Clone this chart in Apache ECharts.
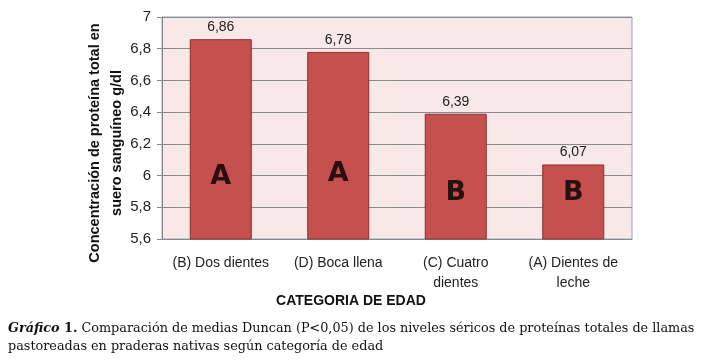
<!DOCTYPE html>
<html>
<head>
<meta charset="utf-8">
<script src="https://cdn.jsdelivr.net/npm/echarts@6/dist/echarts.min.js"></script>
<style>
  html, body { margin: 0; padding: 0; background: #fff; }
  #chart { width: 708px; height: 362px; }
</style>
</head>
<body>
<div id="chart"></div>
<script>
// datos del grafico
var categorias = ['(B) Dos dientes', '(D) Boca llena', '(C) Cuatro\ndientes', '(A) Dientes de\nleche']
var medias = [6.86, 6.78, 6.39, 6.07]
var letras = ['A', 'A', 'B', 'B']
var alturaLetras = [5.99, 6.01, 5.89, 5.89]
var ticksY = [5.6, 5.8, 6, 6.2, 6.4, 6.6, 6.8, 7]

var coma = function (v) { return String(v).replace('.', ',') }

var chart = echarts.init(document.getElementById('chart'), null, { renderer: 'canvas' })

var option = {
  backgroundColor: '#fff',
  animation: false,
  textStyle: { fontFamily: 'Liberation Sans' },
  grid: {
    left: 162, right: 76, top: 17, bottom: 123,
    show: true,
    backgroundColor: '#F9E8E8',
    borderColor: '#8FA3C6',
    borderWidth: 1
  },
  xAxis: {
    type: 'category',
    data: categorias,
    axisLine: { lineStyle: { color: '#8A8A8A' } },
    axisTick: { show: false },
    axisLabel: { color: '#222', fontSize: 14, lineHeight: 20, margin: 14, interval: 0 }
  },
  yAxis: {
    type: 'value',
    min: ticksY[0],
    max: ticksY[ticksY.length - 1],
    interval: 0.2,
    axisLine: { show: true, lineStyle: { color: '#8A8A8A' } },
    axisTick: { show: true, length: 5, lineStyle: { color: '#8A8A8A' } },
    splitLine: { lineStyle: { color: '#8A8A8A' } },
    axisLabel: {
      color: '#222', fontSize: 15, margin: 11,
      formatter: function (v) { return coma(Math.round(v * 10) / 10) }
    }
  },
  series: [
    {
      type: 'bar',
      data: medias,
      barWidth: 62,
      itemStyle: { color: '#C5504D', borderColor: '#86302E', borderWidth: 1 },
      label: {
        show: true, position: 'top', distance: 5,
        color: '#222', fontSize: 14,
        formatter: function (p) { return coma(p.value) }
      }
    },
    {
      type: 'scatter',
      data: alturaLetras,
      symbolSize: 0,
      silent: true,
      label: {
        show: true, position: 'inside',
        color: '#000', fontSize: 27, fontWeight: 'bold',
        fontFamily: 'DejaVu Sans',
        formatter: function (p) { return letras[p.dataIndex] }
      }
    }
  ],
  graphic: [
    {
      type: 'text',
      x: 106, y: 143,
      rotation: Math.PI / 2,
      style: {
        text: 'Concentración de proteína total en\nsuero sanguíneo g/dl',
        font: 'bold 14.5px "Liberation Sans"',
        lineHeight: 22,
        fill: '#111',
        align: 'center',
        verticalAlign: 'middle'
      }
    },
    {
      type: 'text',
      x: 351, y: 301,
      style: {
        text: 'CATEGORIA DE EDAD',
        font: 'bold 14px "Liberation Sans"',
        fill: '#111',
        align: 'center',
        verticalAlign: 'middle'
      }
    },
    {
      type: 'text',
      x: 8, y: 320,
      style: {
        text: '{b|Gráfico}{n| 1.} Comparación de medias Duncan (P<0,05) de los niveles séricos de proteínas totales de llamas\npastoreadas en praderas nativas según categoría de edad',
        font: '12.8px "DejaVu Serif"',
        lineHeight: 18,
        fill: '#111',
        rich: {
          b: { font: 'italic bold 12.8px "DejaVu Serif"', fill: '#111' },
          n: { font: 'bold 12.8px "DejaVu Serif"', fill: '#111' }
        }
      }
    }
  ]
}

chart.setOption(option)
</script>
</body>
</html>
